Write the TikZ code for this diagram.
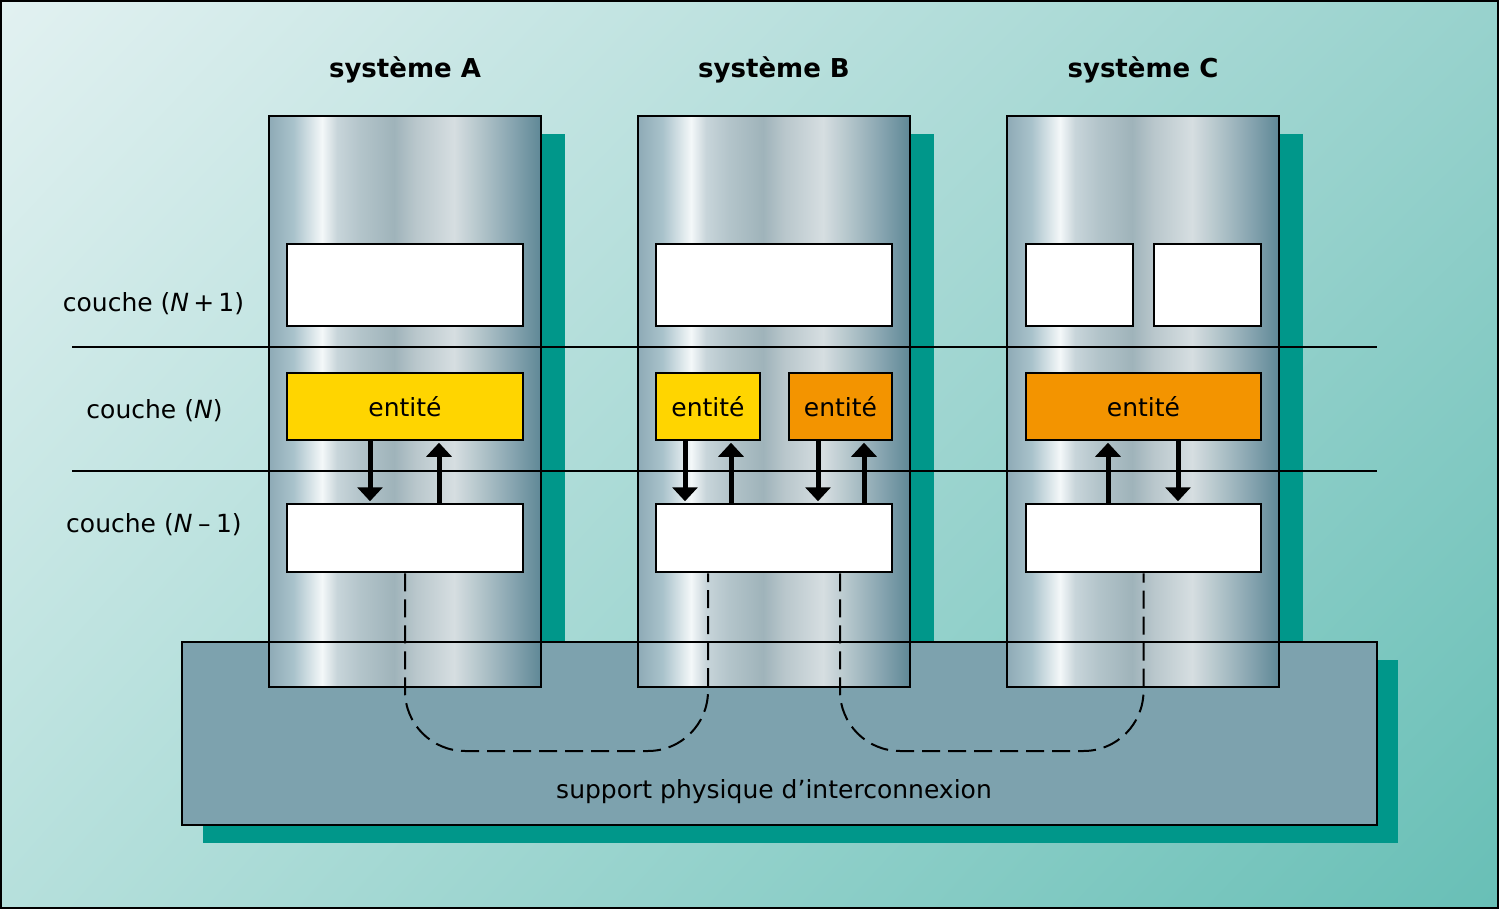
\documentclass[tikz,border=0pt]{standalone}
\usepackage{fontspec}
\setmainfont{DejaVu Sans}
\usetikzlibrary{arrows.meta,calc,shadings}
\definecolor{bgUL}{HTML}{E2F1F1}
\definecolor{bgUR}{HTML}{98D2CD}
\definecolor{bgLL}{HTML}{B6E0DC}
\definecolor{bgLR}{HTML}{68BFB6}
\definecolor{shteal}{HTML}{00978A}
\definecolor{supfill}{HTML}{7DA2AE}
\definecolor{entyel}{HTML}{FFD500}
\definecolor{entora}{HTML}{F39400}
\definecolor{m0}{HTML}{8EAAB6}
\definecolor{m1}{HTML}{A9C2CB}
\definecolor{m2}{HTML}{F4F8F9}
\definecolor{m3}{HTML}{C8D5DA}
\definecolor{m4}{HTML}{B3C4CA}
\definecolor{m5}{HTML}{9FB3BA}
\definecolor{m6}{HTML}{B9C7CC}
\definecolor{m7}{HTML}{D6DEE1}
\definecolor{m8}{HTML}{B9C9CE}
\definecolor{m9}{HTML}{87A5B0}
\definecolor{m10}{HTML}{5F8896}
\pgfdeclarehorizontalshading{metal}{100bp}{color(0bp)=(m0); color(25bp)=(m0); color(29.5bp)=(m1); color(34.75bp)=(m2); color(37.5bp)=(m3); color(41.75bp)=(m4); color(48bp)=(m5); color(52bp)=(m6); color(59bp)=(m7); color(63bp)=(m8); color(69.75bp)=(m9); color(75bp)=(m10); color(100bp)=(m10)}
\tikzset{
  column/.style={draw=black, line width=2pt, shading=metal, minimum width=272pt, minimum height=571pt, inner sep=0pt, outer sep=0pt},
  wbox/.style={draw=black, line width=2.5pt, fill=white, inner sep=0pt},
  ybox/.style={wbox, fill=entyel, font=\fontsize{25}{30}\selectfont},
  obox/.style={wbox, fill=entora, font=\fontsize{25}{30}\selectfont},
  layerline/.style={line width=1.5pt},
  title/.style={font=\fontsize{26}{30}\selectfont\bfseries, anchor=base},
  lbl/.style={font=\fontsize{25}{30}\selectfont, anchor=base},
  arr/.style={line width=5pt, -{Triangle[width=25pt,length=14pt]}},
  dashline/.style={line width=2pt, dash pattern=on 18pt off 8pt, rounded corners=60pt},
}
\begin{document}
\begin{tikzpicture}[x=1pt,y=-1pt]
\useasboundingbox (0,0) rectangle (1499,909);
% background
\shade[upper left=bgUL, upper right=bgUR, lower left=bgLL, lower right=bgLR] (0,0) rectangle (1499,909);
\draw[line width=2pt] (1,1) rectangle (1498,908);
% column shadows
\fill[shteal] (293,134) rectangle (565,705);
\fill[shteal] (662,134) rectangle (934,705);
\fill[shteal] (1031,134) rectangle (1303,705);
% support shadow and fill
\fill[shteal] (203,660) rectangle (1398,843);
\node[fill=supfill, minimum width=1195pt, minimum height=183pt, inner sep=0pt] (sup) at (779.5,733.5) {};
% columns
\node[column] (cA) at (405,401.5) {};
\node[column] (cB) at (774,401.5) {};
\node[column] (cC) at (1143,401.5) {};
\draw[line width=2pt] (sup.north west) rectangle (sup.south east);
% layer lines
\coordinate (l1a) at (72,347); \coordinate (l1b) at (1377,347);
\coordinate (l2a) at (72,471); \coordinate (l2b) at (1377,471);
\draw[layerline] (l1a) -- (l1b);
\draw[layerline] (l2a) -- (l2b);
% boxes system A
\node[wbox, minimum width=236pt, minimum height=82pt] (tA) at (405,285) {};
\node[ybox, minimum width=236pt, minimum height=67pt] (eA) at (405,406.5) {entité};
\node[wbox, minimum width=236pt, minimum height=68pt] (lA) at (405,538) {};
% system B
\node[wbox, minimum width=236pt, minimum height=82pt] (tB) at (774,285) {};
\node[ybox, minimum width=104pt, minimum height=67pt] (eB1) at (708,406.5) {entité};
\node[obox, minimum width=103pt, minimum height=67pt] (eB2) at (840.5,406.5) {entité};
\node[wbox, minimum width=236pt, minimum height=68pt] (lB) at (774,538) {};
% system C
\node[wbox, minimum width=107pt, minimum height=82pt] (tC1) at (1079.5,285) {};
\node[wbox, minimum width=107pt, minimum height=82pt] (tC2) at (1207.5,285) {};
\node[obox, minimum width=235pt, minimum height=67pt] (eC) at (1143.5,406.5) {entité};
\node[wbox, minimum width=235pt, minimum height=68pt] (lC) at (1143.5,538) {};
% arrow x positions
\coordinate (xa1) at (370,0); \coordinate (xa2) at (439,0);
\coordinate (xb1) at (685,0); \coordinate (xb2) at (731,0);
\coordinate (xb3) at (818,0); \coordinate (xb4) at (864,0);
\coordinate (xc1) at (1108,0); \coordinate (xc2) at (1178,0);
\draw[arr, shorten >=1.5pt] (xa1 |- eA.south) -- (xa1 |- lA.north);
\draw[arr, shorten >=1.5pt] (xa2 |- lA.north) -- (xa2 |- eA.south);
\draw[arr, shorten >=1.5pt] (xb1 |- eB1.south) -- (xb1 |- lB.north);
\draw[arr, shorten >=1.5pt] (xb2 |- lB.north) -- (xb2 |- eB1.south);
\draw[arr, shorten >=1.5pt] (xb3 |- eB2.south) -- (xb3 |- lB.north);
\draw[arr, shorten >=1.5pt] (xb4 |- lB.north) -- (xb4 |- eB2.south);
\draw[arr, shorten >=1.5pt] (xc1 |- lC.north) -- (xc1 |- eC.south);
\draw[arr, shorten >=1.5pt] (xc2 |- eC.south) -- (xc2 |- lC.north);
% dashed links
\coordinate (dy) at (0,751);
\coordinate (pB1) at (708,0); \coordinate (pB2) at (840,0);
\draw[dashline] (lA.south) -- (lA.south |- dy) -- (pB1 |- dy) -- (pB1 |- lB.south);
\draw[dashline] (pB2 |- lB.south) -- (pB2 |- dy) -- (lC.south |- dy) -- (lC.south);
% titles
\node[title] (tiA) at (405,78) {système A};
\node[title] (tiB) at (774,78) {système B};
\node[title] (tiC) at (1143,78) {système C};
% layer labels
\node[lbl] (c1) at (153.5,312) {couche (\textit{N}\,+\,1)};
\node[lbl] (c2) at (154.5,418) {couche (\textit{N})};
\node[lbl] (c3) at (154,532) {couche (\textit{N}\:–\:1)};
\node[lbl] (sl) at (774,798) {support physique d’interconnexion};
\end{tikzpicture}
\end{document}
